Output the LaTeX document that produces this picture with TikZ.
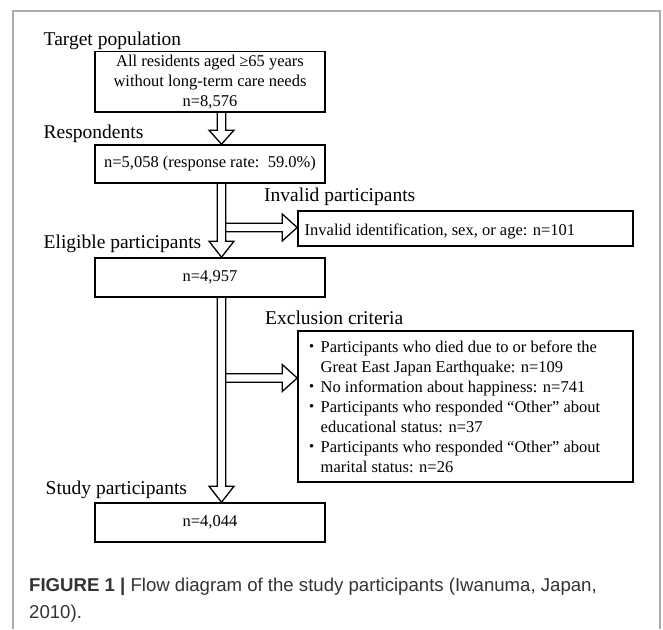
\documentclass[tikz,border=0pt]{standalone}
\usepackage{fontspec}
\setmainfont{Liberation Serif}
\setsansfont{Liberation Sans}
\newfontfamily\jpfont{Noto Sans CJK JP}
\usetikzlibrary{calc}
\newcommand\bul{\makebox[18pt][c]{\jpfont ・}}
\newcommand\ind{\hspace*{18pt}}
\begin{document}
\begin{tikzpicture}[x=1pt,y=-1pt,
  box/.style={draw, line width=1.6pt, inner sep=0pt},
  lbl/.style={anchor=base west, inner sep=0pt, font=\fontsize{19.5}{23}\selectfont},
  txt/.style={inner sep=0pt, font=\fontsize{16.5}{20}\selectfont},
  ltxt/.style={txt, anchor=base west},
  blk/.style={draw, line width=1.3pt, line join=miter},
  captxt/.style={anchor=base west, inner sep=0pt, text=black!80, font=\sffamily\fontsize{18.6}{26}\selectfont}]
\useasboundingbox (0,0) rectangle (663,629);
% outer frame
\draw[gray!65, line width=1.5pt] (13,629) -- (13,11) -- (660,11) -- (660,629);

% boxes
\node[box, minimum width=230pt, minimum height=60.5pt] (b1) at (210,81.75) {};
\node[box, minimum width=230pt, minimum height=38pt] (b2) at (210,164) {};
\node[box, minimum width=335pt, minimum height=35pt] (b3) at (465.5,228.5) {};
\node[box, minimum width=230pt, minimum height=39pt] (b4) at (210,277.5) {};
\node[box, minimum width=335pt, minimum height=151pt] (b5) at (465.5,406.5) {};
\node[box, minimum width=230pt, minimum height=39pt] (b6) at (210,522.5) {};

% box texts
\node[txt, align=center] (t1) at (b1.center) {All residents aged ≥65 years\\without long-term care needs\\n=8,576};
\node[txt] (t2) at (b2.center) {n=5,058 (response rate:\ \ 59.0\%)};
\node[ltxt] (t3) at (304.5,235) {Invalid identification, sex, or age: n=101};
\node[txt] (t4) at (b4.center) {n=4,957};
\node[txt] (t6) at (b6.center) {n=4,044};
\node[ltxt] (e1) at (302.5,352) {\bul Participants who died due to or before the};
\node[ltxt] (e2) at (302.5,372) {\ind Great East Japan Earthquake: n=109};
\node[ltxt] (e3) at (302.5,392) {\bul No information about happiness: n=741};
\node[ltxt] (e4) at (302.5,412) {\bul Participants who responded “Other” about};
\node[ltxt] (e5) at (302.5,432) {\ind educational status: n=37};
\node[ltxt] (e6) at (302.5,452) {\bul Participants who responded “Other” about};
\node[ltxt] (e7) at (302.5,472) {\ind marital status: n=26};

% stage labels
\node[lbl] (lt) at (43.5,45) {Target population};
\node[lbl] (lr) at (43.5,138) {Respondents};
\node[lbl] (li) at (264,201.5) {Invalid participants};
\node[lbl] (le) at (43.5,248) {Eligible participants};
\node[lbl] (lx) at (265,324) {Exclusion criteria};
\node[lbl] (ls) at (45.5,494) {Study participants};

% arrow axis and junctions
\coordinate (ax) at (221.5,0);
\coordinate (j1) at (225.75,227.5);
\coordinate (j2) at (225.75,378);

% side arrows
\draw[blk] let \p1=(j1), \p2=(j1 -| b3.west) in
  (\x1,\y1+4.2pt) -- (\x2-15pt,\y1+4.2pt) -- (\x2-15pt,\y1+13.5pt) -- (\x2,\y1)
  -- (\x2-15pt,\y1-13.5pt) -- (\x2-15pt,\y1-4.2pt) -- (\x1,\y1-4.2pt);
\draw[blk] let \p1=(j2), \p2=(j2 -| b5.west) in
  (\x1,\y1+4.2pt) -- (\x2-15pt,\y1+4.2pt) -- (\x2-15pt,\y1+13.5pt) -- (\x2,\y1)
  -- (\x2-15pt,\y1-13.5pt) -- (\x2-15pt,\y1-4.2pt) -- (\x1,\y1-4.2pt);

% vertical arrows
\foreach \s/\e/\h in {b1/b2/14pt, b2/b4/16pt, b4/b6/16pt}{
  \draw[blk] let \p1=(\s.south -| ax), \p2=(\e.north -| ax) in
    (\x1-4.25pt,\y1) -- (\x1-4.25pt,\y2+\h) -- (\x1-12.5pt,\y2+\h) -- (\x2,\y2)
    -- (\x1+12.5pt,\y2+\h) -- (\x1+4.25pt,\y2+\h) -- (\x1+4.25pt,\y1);
}

% caption
\node[captxt] (c1) at (29,591.7) {\textbf{FIGURE 1} \textbf{|} Flow diagram of the study participants (Iwanuma, Japan,};
\node[captxt] (c2) at (29,618.3) {2010).};
\end{tikzpicture}
\end{document}
